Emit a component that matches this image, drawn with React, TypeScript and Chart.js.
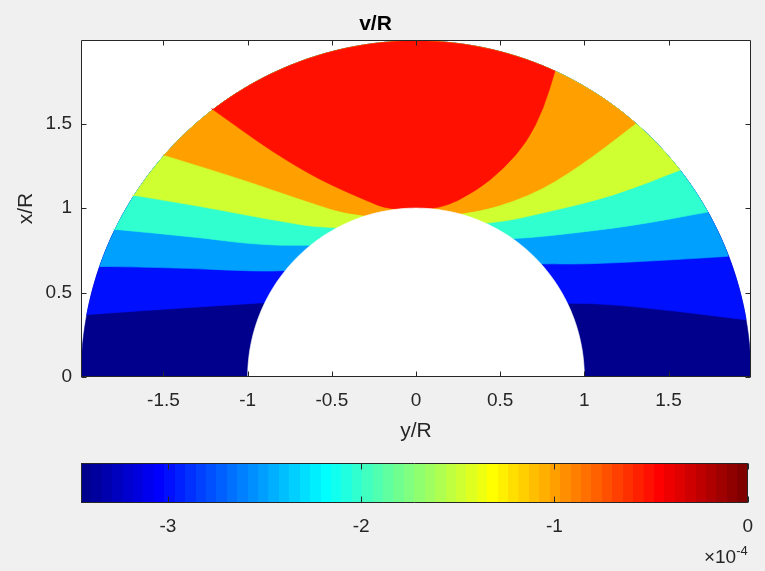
import React, { useEffect, useRef } from "react";
import { Chart, registerables } from "chart.js";

Chart.register(...registerables);

// ---------- data ----------
const TITLE = "v/R";
const X_LABEL = "y/R";
const Y_LABEL = "x/R";
const X_MIN = -1.99;
const X_MAX = 1.99;
const Y_MIN = 0;
const Y_MAX = 1.995;
const X_TICKS = [-1.5, -1, -0.5, 0, 0.5, 1, 1.5];
const Y_TICKS = [0, 0.5, 1, 1.5];
const R_INNER = 1;
const R_OUTER = 1.99;

// contour lines (y/R, x/R): left outer edge -> left inner edge | right inner edge -> right outer edge
const LINE_NAVY_BLUE: [number, number][] = [
  [-1.958, 0.369], [-1.482, 0.403], [-0.97, 0.435], [-0.9, 0.44],
  [0.9, 0.44], [1.173, 0.429], [1.571, 0.387], [1.958, 0.339],
];
const LINE_BLUE_AZURE: [number, number][] = [
  [-1.881, 0.655], [-1.482, 0.649], [-0.929, 0.625], [-0.78, 0.63],
  [0.74, 0.672], [0.976, 0.667], [1.375, 0.685], [1.851, 0.714],
];
const LINE_AZURE_AQUA: [number, number][] = [
  [-1.798, 0.875], [-1.286, 0.827], [-0.988, 0.786], [-0.63, 0.775],
  [0.58, 0.815], [0.875, 0.845], [1.274, 0.893], [1.732, 0.976],
];
const LINE_AQUA_LIME: [number, number][] = [
  [-1.685, 1.077], [-1.286, 1.012], [-0.887, 0.935], [-0.49, 0.87],
  [0.43, 0.9], [0.78, 0.976], [1.173, 1.071], [1.571, 1.226],
];
const LINE_LIME_ORANGE: [number, number][] = [
  [-1.5, 1.315], [-1.089, 1.19], [-0.69, 1.054], [-0.34, 0.94],
  [0.29, 0.955], [0.679, 1.071], [0.976, 1.25], [1.304, 1.5],
];
const LINE_ORANGE_RED: [number, number][] = [
  [-1.214, 1.589], [-1.048, 1.47], [-0.851, 1.333], [-0.651, 1.212], [-0.494, 1.131], [-0.294, 1.044], [-0.16, 0.99],
  [0.14, 0.99], [0.361, 1.103], [0.52, 1.232], [0.659, 1.391], [0.758, 1.589], [0.827, 1.815],
];

const BAND_COLORS = ["#00008C", "#0010FF", "#00A0FF", "#30FFCF", "#CFFF30", "#FF9F00", "#FF1000"];
const BAND_LINES = [LINE_NAVY_BLUE, LINE_BLUE_AZURE, LINE_AZURE_AQUA, LINE_AQUA_LIME, LINE_LIME_ORANGE, LINE_ORANGE_RED];

// colorbar
const CB_MIN = -3.45;
const CB_MAX = 0;
const CB_TICKS = [-3, -2, -1, 0];
const CB_EXPONENT = "-4";

// ---------- helpers ----------
const FONT = "'Liberation Sans', Arial, Helvetica, sans-serif";
const AXIS_COLOR = "#262626";

function arcPts(r: number, a0: number, a1: number, n: number) {
  const out: { x: number; y: number }[] = [];
  for (let i = 0; i <= n; i++) {
    const a = a0 + ((a1 - a0) * i) / n;
    out.push({ x: r * Math.cos(a), y: r * Math.sin(a) });
  }
  return out;
}

function bandPolygon(line: [number, number][]) {
  const pts = line.map(([x, y]) => ({ x, y }));
  const first = pts[0];
  const last = pts[pts.length - 1];
  const aEnd = Math.atan2(last.y, last.x);
  const aStart = Math.atan2(first.y, first.x);
  return [...pts, ...arcPts(R_OUTER, aEnd, aStart, 80)];
}

function jet64(): number[][] {
  const m = 64, n = 16;
  const u: number[] = [];
  for (let i = 1; i <= n; i++) u.push(i / n);
  for (let i = 0; i < n - 1; i++) u.push(1);
  for (let i = n; i >= 1; i--) u.push(i / n);
  const J = Array.from({ length: m }, () => [0, 0, 0]);
  for (let k = 1; k <= u.length; k++) {
    const g = 8 + k, r = g + n, b = g - n;
    if (r >= 1 && r <= m) J[r - 1][0] = u[k - 1];
    if (g >= 1 && g <= m) J[g - 1][1] = u[k - 1];
    if (b >= 1 && b <= m) J[b - 1][2] = u[k - 1];
  }
  return J;
}

const polyPlugin = {
  id: "polyFill",
  beforeDatasetsDraw(chart: any) {
    const { ctx, chartArea: a, scales } = chart;
    const sx = scales.x, sy = scales.y;
    ctx.save();
    ctx.fillStyle = "#ffffff";
    ctx.fillRect(a.left, a.top, a.right - a.left, a.bottom - a.top);
    ctx.beginPath();
    ctx.rect(a.left, a.top, a.right - a.left, a.bottom - a.top);
    ctx.clip();
    chart.data.datasets.forEach((ds: any) => {
      if (!ds.polyColor) return;
      const P = ds.data.map((p: any) => [sx.getPixelForValue(p.x), sy.getPixelForValue(p.y)]);
      ctx.beginPath();
      if (ds.smooth) {
        ctx.moveTo(P[0][0], P[0][1]);
        for (let i = 1; i < P.length - 1; i++) {
          const mx = (P[i][0] + P[i + 1][0]) / 2;
          const my = (P[i][1] + P[i + 1][1]) / 2;
          ctx.quadraticCurveTo(P[i][0], P[i][1], mx, my);
        }
        ctx.lineTo(P[P.length - 1][0], P[P.length - 1][1]);
      } else {
        P.forEach((p: number[], i: number) => (i === 0 ? ctx.moveTo(p[0], p[1]) : ctx.lineTo(p[0], p[1])));
      }
      ctx.closePath();
      ctx.fillStyle = ds.polyColor;
      ctx.fill();
      ctx.strokeStyle = ds.polyColor;
      ctx.lineWidth = 0.6;
      ctx.stroke();
    });
    ctx.restore();
  },
  afterDatasetsDraw(chart: any) {
    const { ctx, chartArea: a, scales } = chart;
    const sx = scales.x, sy = scales.y;
    ctx.save();
    ctx.strokeStyle = AXIS_COLOR;
    ctx.lineWidth = 1;
    const L = Math.round(a.left) + 0.5, R = Math.round(a.right) - 0.5;
    const T = Math.round(a.top) + 0.5, B = Math.round(a.bottom) - 0.5;
    ctx.beginPath();
    ctx.rect(L, T, R - L, B - T);
    const tl = 5;
    X_TICKS.forEach((v) => {
      const px = Math.round(sx.getPixelForValue(v)) + 0.5;
      ctx.moveTo(px, B); ctx.lineTo(px, B - tl);
      ctx.moveTo(px, T); ctx.lineTo(px, T + tl);
    });
    Y_TICKS.forEach((v) => {
      const py = Math.round(sy.getPixelForValue(v)) + 0.5;
      ctx.moveTo(L, py); ctx.lineTo(L + tl, py);
      ctx.moveTo(R, py); ctx.lineTo(R - tl, py);
    });
    ctx.stroke();
    ctx.restore();
  },
};

const cbPlugin = {
  id: "cbDecor",
  afterDraw(chart: any) {
    const { ctx, chartArea: a, scales } = chart;
    const sx = scales.x;
    ctx.save();
    ctx.strokeStyle = AXIS_COLOR;
    ctx.lineWidth = 1;
    const L = Math.round(a.left) + 0.5, R = Math.round(a.right) - 0.5;
    const T = Math.round(a.top) + 0.5, B = Math.round(a.bottom) - 0.5;
    ctx.beginPath();
    ctx.rect(L, T, R - L, B - T);
    CB_TICKS.forEach((v) => {
      const px = Math.round(sx.getPixelForValue(v)) + 0.5;
      ctx.moveTo(px, B); ctx.lineTo(px, B - 6);
      ctx.moveTo(px, T); ctx.lineTo(px, T + 6);
    });
    ctx.stroke();
    // exponent label
    ctx.fillStyle = AXIS_COLOR;
    ctx.textBaseline = "alphabetic";
    ctx.font = `13px ${FONT}`;
    const supW = ctx.measureText(CB_EXPONENT).width;
    ctx.textAlign = "right";
    ctx.fillText(CB_EXPONENT, a.right, 105);
    ctx.font = `19px ${FONT}`;
    ctx.fillText("\u00d710", a.right - supW, 113);
    ctx.restore();
  },
};

const tickFont = { family: FONT, size: 19 };
const labelFont = { family: FONT, size: 21 };

export default function App() {
  const ref1 = useRef<HTMLCanvasElement>(null);
  const ref2 = useRef<HTMLCanvasElement>(null);

  useEffect(() => {
    const datasets: any[] = [];
    datasets.push({ data: arcPts(R_OUTER, 0, Math.PI, 180), polyColor: BAND_COLORS[0], smooth: false });
    BAND_LINES.forEach((line, i) => {
      datasets.push({ data: bandPolygon(line), polyColor: BAND_COLORS[i + 1], smooth: true });
    });
    datasets.push({ data: arcPts(R_INNER, 0, Math.PI, 120), polyColor: "#ffffff", smooth: false });
    datasets.forEach((d) => {
      d.pointRadius = 0;
      d.pointHoverRadius = 0;
      d.showLine = false;
    });

    const c1 = new Chart(ref1.current!, {
      type: "scatter",
      data: { datasets },
      options: {
        animation: false,
        responsive: false,
        maintainAspectRatio: false,
        events: [],
        layout: { padding: { left: 0, right: 14, top: 0, bottom: 0 } },
        plugins: {
          legend: { display: false },
          tooltip: { enabled: false },
          title: {
            display: true,
            text: TITLE,
            color: "#000000",
            font: { family: FONT, size: 21, weight: "bold" },
            padding: { top: 12, bottom: 2.8 },
          },
        },
        scales: {
          x: {
            type: "linear",
            min: X_MIN,
            max: X_MAX,
            grid: { display: false, drawTicks: false },
            border: { display: false },
            ticks: { font: tickFont, color: AXIS_COLOR, padding: 12, callback: (v: any) => String(v) },
            title: { display: true, text: X_LABEL, font: labelFont, color: AXIS_COLOR, padding: { top: 0, bottom: 6 } },
            afterBuildTicks: (s: any) => { s.ticks = X_TICKS.map((v) => ({ value: v })); },
            afterFit: (s: any) => { s.height = 73; },
          },
          y: {
            type: "linear",
            min: Y_MIN,
            max: Y_MAX,
            grid: { display: false, drawTicks: false },
            border: { display: false },
            ticks: { font: tickFont, color: AXIS_COLOR, padding: 9, callback: (v: any) => String(v) },
            title: { display: true, text: Y_LABEL, font: labelFont, color: AXIS_COLOR, padding: { top: 14, bottom: 0 } },
            afterBuildTicks: (s: any) => { s.ticks = Y_TICKS.map((v) => ({ value: v })); },
            afterFit: (s: any) => { s.width = 81; },
          },
        },
      } as any,
      plugins: [polyPlugin],
    });

    const cmap = jet64();
    const c2 = new Chart(ref2.current!, {
      type: "bar",
      data: {
        labels: ["cb"],
        datasets: [
          {
            data: [[CB_MIN, CB_MAX]] as any,
            barPercentage: 1,
            categoryPercentage: 1,
            borderWidth: 0,
            backgroundColor: (c: any) => {
              const a = c.chart.chartArea;
              if (!a) return "#000";
              const g = c.chart.ctx.createLinearGradient(a.left, 0, a.right, 0);
              cmap.forEach((col, i) => {
                const s = `rgb(${Math.round(col[0] * 255)},${Math.round(col[1] * 255)},${Math.round(col[2] * 255)})`;
                g.addColorStop(i / 64, s);
                g.addColorStop(Math.min(1, (i + 1) / 64 - 0.0001), s);
              });
              return g;
            },
          },
        ],
      },
      options: {
        animation: false,
        responsive: false,
        maintainAspectRatio: false,
        events: [],
        indexAxis: "y",
        layout: { padding: { left: 81, right: 14, top: 13, bottom: 0 } },
        plugins: { legend: { display: false }, tooltip: { enabled: false } },
        scales: {
          x: {
            type: "linear",
            min: CB_MIN,
            max: CB_MAX,
            grid: { display: false, drawTicks: false },
            border: { display: false },
            ticks: { font: tickFont, color: AXIS_COLOR, padding: 12, callback: (v: any) => String(v) },
            afterBuildTicks: (s: any) => { s.ticks = CB_TICKS.map((v) => ({ value: v })); },
            afterFit: (s: any) => { s.height = 68; },
          },
          y: { display: false },
        },
      } as any,
      plugins: [cbPlugin],
    });

    return () => {
      c1.destroy();
      c2.destroy();
    };
  }, []);

  return (
    <div style={{ position: "fixed", left: 0, top: 0, width: 765, height: 571, background: "#f0f0f0", overflow: "hidden" }}>
      <canvas ref={ref1} width={765} height={450} style={{ position: "absolute", left: 0, top: 0, width: 765, height: 450 }} />
      <canvas ref={ref2} width={765} height={121} style={{ position: "absolute", left: 0, top: 450, width: 765, height: 121 }} />
    </div>
  );
}
